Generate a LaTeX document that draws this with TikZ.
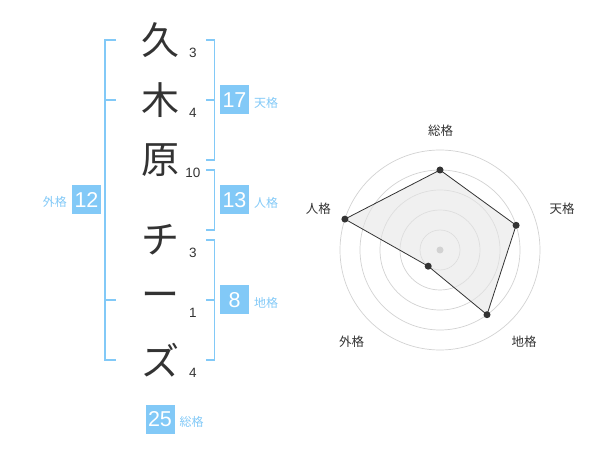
\documentclass[tikz,border=0pt]{standalone}
\usepackage{fontspec}
\setmainfont{Liberation Sans}
\newfontfamily\cjk{Noto Sans CJK JP}
\definecolor{sky}{HTML}{82C9F7}
\definecolor{ink}{HTML}{333333}
\definecolor{ring}{HTML}{D2D2D2}
\definecolor{area}{HTML}{E6E6E6}
\tikzset{
  bigchar/.style={text=ink,font=\cjk\fontsize{38}{38}\selectfont,inner sep=0pt},
  strokes/.style={text=ink,font=\fontsize{13.5}{14}\selectfont,inner sep=0pt},
  numbox/.style={fill=sky,text=white,minimum width=29pt,minimum height=29pt,inner sep=0pt,font=\fontsize{21.5}{22}\selectfont},
  kaku/.style={text=sky,font=\cjk\fontsize{12}{12}\selectfont,inner sep=0pt},
  bracket/.style={draw=sky,line width=1.6pt},
  axislabel/.style={text=ink,font=\cjk\fontsize{12.5}{13}\selectfont,inner sep=0pt},
  dot/.style={circle,fill=ink,inner sep=0pt,minimum size=7pt},
}
\begin{document}
\begin{tikzpicture}[x=1pt,y=-1pt]
\useasboundingbox (0,0) rectangle (600,470);
% characters
\node[bigchar] (c1) at (160,40) {久};
\node[bigchar] (c2) at (160,100) {木};
\node[bigchar] (c3) at (160,160) {原};
\node[bigchar] (c4) at (160,240) {チ};
\node[bigchar] (c5) at (160,300) {ー};
\node[bigchar] (c6) at (160,360) {ズ};
% stroke counts
\node[strokes] (s1) at (193,53) {3};
\node[strokes] (s2) at (193,113) {4};
\node[strokes] (s3) at (193,173) {10};
\node[strokes] (s4) at (193,253) {3};
\node[strokes] (s5) at (193,313) {1};
\node[strokes] (s6) at (193,373) {4};
% left bracket (gaikaku)
\draw[bracket] (116,40) -- (105,40) -- (105,360) -- (116,360);
\draw[bracket] (105,100) -- (116,100);
\draw[bracket] (105,300) -- (116,300);
\node[numbox] (b12) at (86.5,200) {12};
\node[kaku,anchor=east] (l12) at (67,202) {外格};
% right brackets
\draw[bracket] (206,40) -- (214.5,40) -- (214.5,160) -- (206,160);
\draw[bracket] (206,100) -- (214.5,100);
\node[numbox] (b17) at (234.5,100) {17};
\node[kaku,anchor=west] (l17) at (254,103) {天格};
\draw[bracket] (206,170) -- (214.5,170) -- (214.5,230) -- (206,230);
\node[numbox] (b13) at (234.5,200) {13};
\node[kaku,anchor=west] (l13) at (254,203) {人格};
\draw[bracket] (206,240) -- (214.5,240) -- (214.5,360) -- (206,360);
\draw[bracket] (206,300) -- (214.5,300);
\node[numbox] (b8) at (234.5,300) {8};
\node[kaku,anchor=west] (l8) at (254,303) {地格};
\node[numbox] (b25) at (160,419) {25};
\node[kaku,anchor=west] (l25) at (179.5,422) {総格};
% radar chart
\coordinate (ctr) at (440,250);
\foreach \r in {20,40,60,80,100}
  \draw[ring,line width=0.7pt] (ctr) circle[radius=\r];
\coordinate (pSou) at (440,170);
\coordinate (pTen) at (516.1,225.3);
\coordinate (pChi) at (487.0,314.7);
\coordinate (pGai) at (428.2,266.2);
\coordinate (pJin) at (344.9,219.1);
\fill[area,fill opacity=0.6] (pSou) -- (pTen) -- (pChi) -- (pGai) -- (pJin) -- cycle;
\draw[ink,line width=0.8pt] (pSou) -- (pTen) -- (pChi) -- (pGai) -- (pJin) -- cycle;
\node[circle,fill=ring,inner sep=0pt,minimum size=7pt] (cdot) at (ctr) {};
\node[dot] (dSou) at (pSou) {};
\node[dot] (dTen) at (pTen) {};
\node[dot] (dChi) at (pChi) {};
\node[dot] (dGai) at (pGai) {};
\node[dot] (dJin) at (pJin) {};
\node[axislabel] (aSou) at (440.7,131) {総格};
\node[axislabel] (aTen) at (562,209) {天格};
\node[axislabel] (aChi) at (524,342) {地格};
\node[axislabel] (aGai) at (351.7,342) {外格};
\node[axislabel] (aJin) at (318.3,209) {人格};
\end{tikzpicture}
\end{document}
